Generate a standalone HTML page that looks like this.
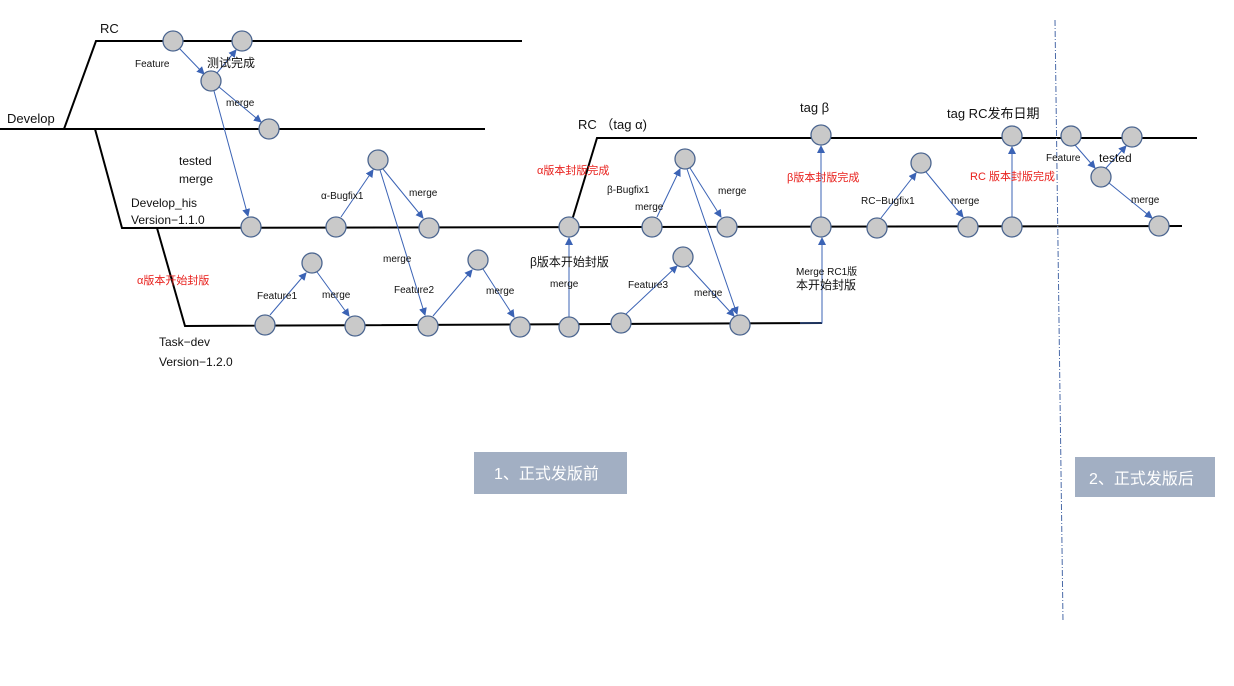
<!DOCTYPE html>
<html><head><meta charset="utf-8"><style>
html,body{margin:0;padding:0;background:#fff;}
svg{display:block;}
text{font-family:"Liberation Sans","Noto Sans CJK SC",sans-serif;fill:#111;}
.s{font-size:10px;}
.m{font-size:12px;}
.l{font-size:13px;}
.r{fill:#e8201c;font-size:11px;}
</style></head><body>
<svg width="1234" height="686" viewBox="0 0 1234 686" xmlns="http://www.w3.org/2000/svg">
<defs>
<marker id="a" markerWidth="8" markerHeight="8" refX="7" refY="4" orient="auto" markerUnits="userSpaceOnUse">
<path d="M0,0 L8,4 L0,8 z" fill="#3b63b5"/></marker>
</defs>
<g stroke="#000" stroke-width="2" fill="none">
<polyline points="64,129 96,41 522,41"/>
<line x1="0" y1="129" x2="485" y2="129"/>
<polyline points="95,129 122,228 1182,226"/>
<polyline points="157,228 185,326 822,323"/>
<polyline points="570,227 597,138 1197,138"/>
</g>
<line x1="1055" y1="20" x2="1063" y2="622" stroke="#4a6aa8" stroke-width="1" stroke-dasharray="6,2,1,2"/>
<g stroke="#3b63b5" stroke-width="1" fill="none" marker-end="url(#a)">
<line x1="179" y1="48" x2="204" y2="74"/>
<line x1="217" y1="73" x2="236" y2="50"/>
<line x1="219" y1="87" x2="261" y2="122"/>
<line x1="214" y1="91" x2="248" y2="216"/>
<line x1="341" y1="217" x2="373" y2="170"/>
<line x1="383" y1="169" x2="423" y2="218"/>
<line x1="380" y1="170" x2="425" y2="315"/>
<line x1="270" y1="315" x2="306" y2="273"/>
<line x1="317" y1="272" x2="349" y2="316"/>
<line x1="433" y1="316" x2="472" y2="270"/>
<line x1="483" y1="269" x2="514" y2="317"/>
<line x1="569" y1="317" x2="569" y2="238"/>
<line x1="657" y1="217" x2="680" y2="169"/>
<line x1="690" y1="168" x2="721" y2="217"/>
<line x1="687" y1="169" x2="737" y2="314"/>
<line x1="626" y1="314" x2="677" y2="266"/>
<line x1="688" y1="266" x2="734" y2="316"/>
<polyline points="800,323 822,323 822,238"/>
<line x1="821" y1="217" x2="821" y2="146"/>
<line x1="881" y1="218" x2="916" y2="173"/>
<line x1="926" y1="172" x2="963" y2="217"/>
<line x1="1012" y1="217" x2="1012" y2="147"/>
<line x1="1075" y1="145" x2="1095" y2="168"/>
<line x1="1106" y1="168" x2="1126" y2="146"/>
<line x1="1109" y1="183" x2="1152" y2="218"/>
</g>
<g fill="#c9c9c9" stroke="#4c6690" stroke-width="1.3">
<circle cx="173" cy="41" r="10"/><circle cx="242" cy="41" r="10"/><circle cx="211" cy="81" r="10"/><circle cx="269" cy="129" r="10"/>
<circle cx="251" cy="227" r="10"/><circle cx="336" cy="227" r="10"/><circle cx="429" cy="228" r="10"/><circle cx="569" cy="227" r="10"/>
<circle cx="652" cy="227" r="10"/><circle cx="727" cy="227" r="10"/><circle cx="821" cy="227" r="10"/><circle cx="877" cy="228" r="10"/>
<circle cx="968" cy="227" r="10"/><circle cx="1012" cy="227" r="10"/><circle cx="1159" cy="226" r="10"/>
<circle cx="378" cy="160" r="10"/><circle cx="685" cy="159" r="10"/><circle cx="921" cy="163" r="10"/>
<circle cx="265" cy="325" r="10"/><circle cx="355" cy="326" r="10"/><circle cx="428" cy="326" r="10"/><circle cx="520" cy="327" r="10"/>
<circle cx="569" cy="327" r="10"/><circle cx="621" cy="323" r="10"/><circle cx="740" cy="325" r="10"/>
<circle cx="312" cy="263" r="10"/><circle cx="478" cy="260" r="10"/><circle cx="683" cy="257" r="10"/>
<circle cx="821" cy="135" r="10"/><circle cx="1012" cy="136" r="10"/><circle cx="1071" cy="136" r="10"/><circle cx="1132" cy="137" r="10"/>
<circle cx="1101" cy="177" r="10"/>
</g>
<text class="l" x="100" y="33">RC</text>
<text class="l" x="7" y="123">Develop</text>
<text class="s" x="135" y="67">Feature</text>
<text class="m" x="207" y="67">测试完成</text>
<text class="s" x="226" y="106">merge</text>
<text class="m" x="179" y="165">tested</text>
<text class="m" x="179" y="183">merge</text>
<text class="m" x="131" y="207">Develop_his</text>
<text class="m" x="131" y="224">Version−1.1.0</text>
<text class="r" x="137" y="284">α版本开始封版</text>
<text class="m" x="159" y="346">Task−dev</text>
<text class="m" x="159" y="366">Version−1.2.0</text>
<text class="s" x="321" y="199">α-Bugfix1</text>
<text class="s" x="409" y="196">merge</text>
<text class="s" x="257" y="299">Feature1</text>
<text class="s" x="322" y="298">merge</text>
<text class="s" x="383" y="262">merge</text>
<text class="s" x="394" y="293">Feature2</text>
<text class="s" x="486" y="294">merge</text>
<text class="r" x="537" y="174">α版本封版完成</text>
<text class="m" x="530" y="266">β版本开始封版</text>
<text class="s" x="550" y="287">merge</text>
<text class="l" x="578" y="129">RC （tag α)</text>
<text class="s" x="607" y="193">β-Bugfix1</text>
<text class="s" x="718" y="194">merge</text>
<text class="s" x="635" y="210">merge</text>
<text class="s" x="628" y="288">Feature3</text>
<text class="s" x="694" y="296">merge</text>
<text class="l" x="800" y="112">tag β</text>
<text class="r" x="787" y="181">β版本封版完成</text>
<text class="s" x="796" y="275">Merge RC1版</text>
<text class="m" x="796" y="289">本开始封版</text>
<text class="s" x="861" y="204">RC−Bugfix1</text>
<text class="s" x="951" y="204">merge</text>
<text class="l" x="947" y="118">tag RC发布日期</text>
<text class="r" x="970" y="180">RC 版本封版完成</text>
<text class="s" x="1046" y="161">Feature</text>
<text class="m" x="1099" y="162">tested</text>
<text class="s" x="1131" y="203">merge</text>
<rect x="474" y="452" width="153" height="42" fill="#a2afc3"/>
<text x="494" y="479" style="font-size:16px;fill:#fff">1、正式发版前</text>
<rect x="1075" y="457" width="140" height="40" fill="#a2afc3"/>
<text x="1089" y="484" style="font-size:16px;fill:#fff">2、正式发版后</text>
</svg>
</body></html>
